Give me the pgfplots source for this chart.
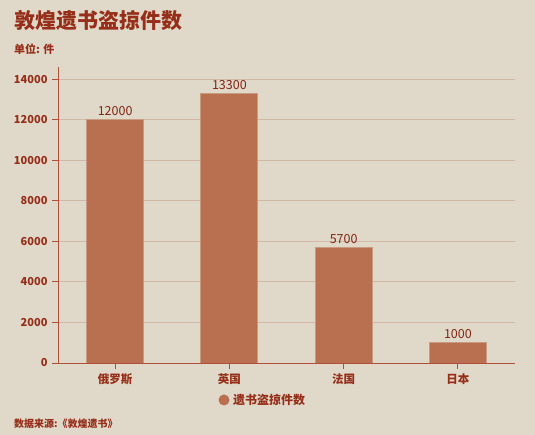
\documentclass[border=0pt]{standalone}
\usepackage{pgfplots}
\pgfplotsset{compat=1.18}
\usepackage{fontspec}
\setmainfont{Noto Sans CJK SC}
\definecolor{bg}{HTML}{E0D8C8}
\definecolor{barc}{HTML}{B87050}
\definecolor{txt}{HTML}{962E1A}
\definecolor{axc}{HTML}{B0503A}
\definecolor{gridc}{HTML}{D2B8A6}
\begin{document}
\begin{tikzpicture}[x=1pt,y=1pt]
  \useasboundingbox (0,0) rectangle (535,435);
  \fill[bg] (0,0) rectangle (535,435);
  \node[anchor=west, inner sep=0, text=txt, font=\bfseries\fontsize{21}{24}\selectfont] at (14,414) {敦煌遗书盗掠件数};
  \node[anchor=west, inner sep=0, text=txt, font=\bfseries\fontsize{11}{13}\selectfont] at (14,386) {单位: 件};
  \node[anchor=west, inner sep=0, text=txt, font=\bfseries\fontsize{10}{12}\selectfont] at (14,11) {数据来源:《敦煌遗书》};
  % legend
  \fill[barc] (224,35) circle (5.5);
  \node[anchor=west, inner sep=0, text=txt, font=\bfseries\fontsize{12}{14}\selectfont] at (233,35) {遗书盗掠件数};
  \begin{axis}[
    at={(58pt,72pt)}, anchor=south west,
    scale only axis,
    width=457pt, height=296pt,
    xmin=-0.5, xmax=3.5,
    ymin=0, ymax=14600,
    axis lines=left,
    axis line style={axc, thick, -},
    xtick={0,1,2,3},
    xticklabels={俄罗斯, 英国, 法国, 日本},
    ytick={0,2000,4000,6000,8000,10000,12000,14000},
    ymajorgrids,
    grid style={gridc, line width=0.8pt},
    tick style={axc, thick},
    major tick length=6pt,
    tick align=outside,
    xtick pos=bottom, ytick pos=left,
    tick label style={text=txt, font=\bfseries\fontsize{11}{13}\selectfont},
    xticklabel style={font=\bfseries\fontsize{11.5}{13}\selectfont, yshift=-1pt},
    /pgf/number format/assume math mode=true,
    /pgf/number format/1000 sep={},
    scaled y ticks=false,
    yticklabel style={xshift=-1pt},
  ]
  \addplot[ybar, bar width=57pt, fill=barc, draw=barc!60!bg, line width=0.8pt,
    nodes near coords, nodes near coords style={text=txt!85!black, font=\fontsize{12.5}{14}\selectfont, yshift=0pt},
    point meta=explicit symbolic]
    coordinates {(0,12000)[12000] (1,13300)[13300] (2,5700)[5700] (3,1000)[1000]};
  \end{axis}
\end{tikzpicture}
\end{document}
